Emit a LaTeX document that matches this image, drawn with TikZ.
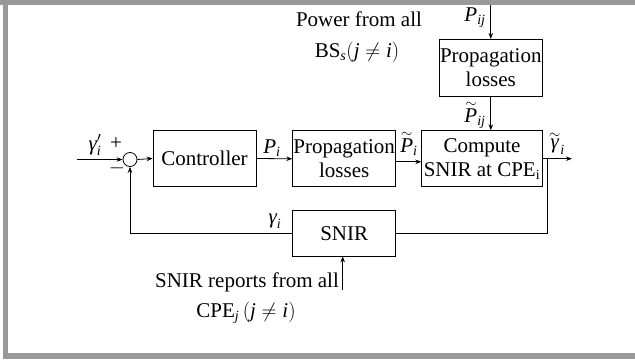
\documentclass[tikz,border=0pt]{standalone}
\usepackage{fontspec}
\setmainfont{Liberation Serif}
\usetikzlibrary{arrows.meta}
\definecolor{framegray}{RGB}{153,153,153}
\newcommand{\myit}[1]{\hbox{\itshape #1}}
\newcommand{\mysub}[1]{\hbox{\fontsize{14}{14}\selectfont\itshape #1}}
\newcommand{\mysubr}[1]{\hbox{\fontsize{14}{14}\selectfont #1}}
\newcommand{\mytld}[1]{\mathord{\mathop{#1}\limits^{\raisebox{-2pt}{$\scriptstyle\sim$}}}}
\begin{document}
\begin{tikzpicture}[x=1pt,y=-1pt,
  blk/.style={draw,line width=0.8pt,inner sep=0pt,align=center,font=\fontsize{21}{24}\selectfont},
  lbl/.style={inner sep=0pt,font=\fontsize{21}{24}\selectfont},
  conn/.style={line width=0.8pt},
  arr/.style={conn,-{Stealth[length=6pt,width=4.5pt]}}]
\useasboundingbox (0,0) rectangle (635,364);
\fill[framegray] (0,0) rectangle (635,4.7);
\fill[framegray] (3.3,0) rectangle (8.3,358.7);
\fill[framegray] (3.3,352.7) rectangle (635,358.7);

\node[blk,minimum width=103pt,minimum height=56pt] (ctrl) at (204.5,158.5) {Controller};
\node[blk,minimum width=103pt,minimum height=56pt] (prop) at (344.2,158.8) {Propagation\\losses};
\node[blk,minimum width=120.6pt,minimum height=56pt] (comp) at (482,158.7) {Compute\\SNIR at CPE$_{\mysubr{i}}$};
\node[blk,minimum width=103pt,minimum height=56.7pt] (prop2) at (490.8,67.7) {Propagation\\losses};
\node[blk,minimum width=103pt,minimum height=45.3pt] (snir) at (344.2,233.3) {SNIR};
\node[draw,circle,conn,minimum size=14pt,inner sep=0pt] (sum) at (130,159.5) {};

\coordinate (out) at (572,158.7);
\coordinate (br) at (547.5,158.7);
\coordinate (in) at (76.7,159.5);
\coordinate (top) at (490.8,5);
\coordinate (rep) at (342.7,290);

\draw[arr] (comp.east) -- (out);
\draw[conn] (br) |- (snir.east);
\draw[arr] (snir.west) -| (sum.south);
\draw[arr] (in) -- (sum.west);
\draw[arr] (sum.east) -- (ctrl.west);
\draw[arr] (ctrl.east) -- (prop.west);
\draw[arr] ([yshift=-3pt]prop.east) -- ([yshift=-3pt]prop.east -| comp.west);
\draw[arr] (top) -- (prop2.north);
\draw[arr] (prop2.south) -- (prop2.south |- comp.north);
\draw[arr] (rep) -- (rep |- snir.south);

\node[lbl] (lgp) at (95,145) {$\myit{γ}'_{\mysub{i}}$};
\node[lbl] (lplus) at (116,144) {+};
\node[lbl] (lminus) at (117,168) {$-$};
\node[lbl] (lpi) at (272,148) {$\myit{P}_{\mysub{i}}$};
\node[lbl] (ltpi) at (409,143) {$\mytld{\myit{P}}_{\mysub{i}}$};
\node[lbl] (ltg) at (557,143) {$\mytld{\myit{γ}}_{\mysub{i}}$};
\node[lbl] (lpij) at (475,18) {$\myit{P}_{\mysub{ij}}$};
\node[lbl] (ltpij) at (475,115) {$\mytld{\myit{P}}_{\mysub{ij}}$};
\node[lbl] (lg) at (275,221) {$\myit{γ}_{\mysub{i}}$};
\node[lbl] (lpow) at (359,19) {Power from all};
\node[lbl] (lbs) at (357,52) {$\hbox{BS}_{\mysub{s}}(\myit{j}\neq\myit{i})$};
\node[lbl] (lrep) at (247,282) {SNIR reports from all};
\node[lbl] (lcpe) at (246,313) {CPE$_{\mysub{j}}$\,$(\myit{j}\neq\myit{i})$};
\end{tikzpicture}
\end{document}
